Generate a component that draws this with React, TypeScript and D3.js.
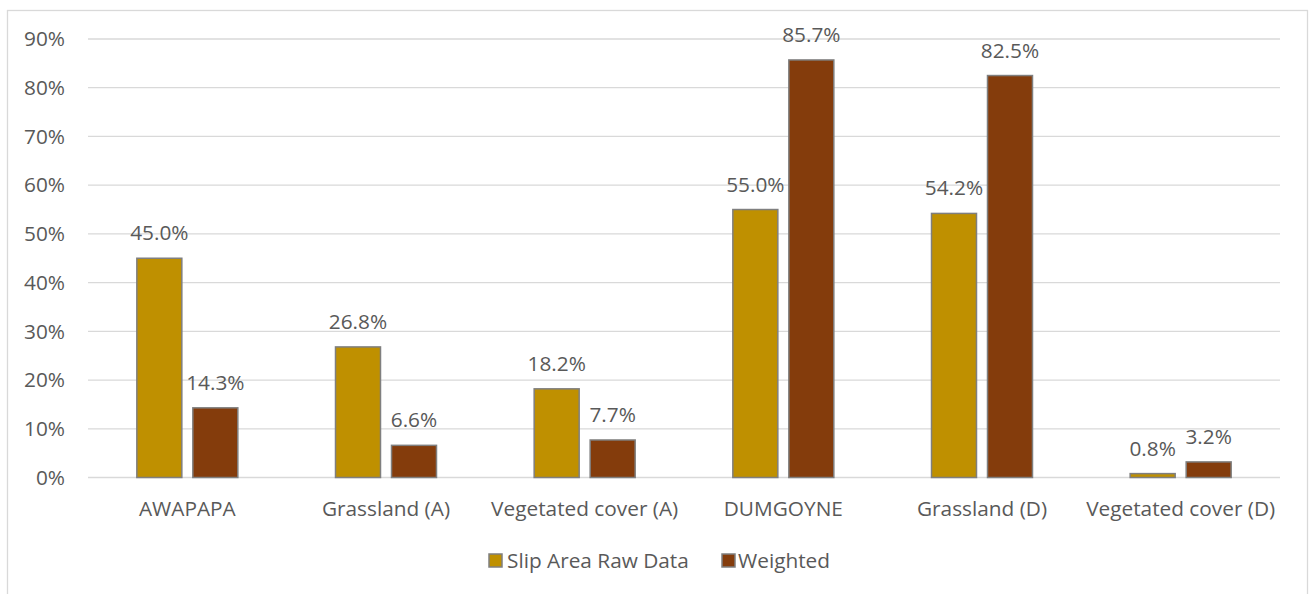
import React from "react";
import * as d3 from "d3";

const categories = [
  "AWAPAPA",
  "Grassland (A)",
  "Vegetated cover (A)",
  "DUMGOYNE",
  "Grassland (D)",
  "Vegetated cover (D)",
];
const rawData = [45.0, 26.8, 18.2, 55.0, 54.2, 0.8];
const weighted = [14.3, 6.6, 7.7, 85.7, 82.5, 3.2];
const yTicks = [0, 10, 20, 30, 40, 50, 60, 70, 80, 90];
const seriesNames = ["Slip Area Raw Data", "Weighted"];
const seriesColors = ["#BF9000", "#843C0C"];

const W = 1309;
const H = 594;
const plot = { left: 88, right: 1280, top: 39, bottom: 477.5 };
const FONT = "'Open Sans', 'Liberation Sans', sans-serif";
const TEXT = "#595959";
const FS = 20.8;

export default function App() {
  const x0 = d3
    .scaleBand<string>()
    .domain(categories)
    .range([plot.left, plot.right])
    .paddingInner(0)
    .paddingOuter(0);
  const y = d3.scaleLinear().domain([0, 90]).range([plot.bottom, plot.top]);

  const barW = 45;
  const gap = 11;
  const groupW = barW * 2 + gap;
  const series = [rawData, weighted];

  const barX = (ci: number, si: number) => {
    const c = categories[ci];
    const start = (x0(c) as number) + (x0.bandwidth() - groupW) / 2;
    return start + si * (barW + gap);
  };

  const legend = [
    { box: 489, text: 507 },
    { box: 722, text: 738 },
  ];

  return (
    <svg
      width={W}
      height={H}
      style={{ position: "absolute", left: 0, top: 0, background: "#fff" }}
      fontFamily={FONT}
    >
      <rect x={7.5} y={10.5} width={1300} height={600} fill="#fff" stroke="#D9D9D9" strokeWidth={1.3} />

      {yTicks.map((t) => (
        <g key={t}>
          <line
            x1={plot.left}
            x2={plot.right}
            y1={y(t)}
            y2={y(t)}
            stroke="#D9D9D9"
            strokeWidth={1.3}
          />
          <text
            x={65}
            y={y(t)}
            dy="0.35em"
            textAnchor="end"
            fontSize={FS}
            fill={TEXT}
          >
            {t}%
          </text>
        </g>
      ))}

      {series.map((vals, si) =>
        vals.map((v, ci) => (
          <g key={`${si}-${ci}`}>
            <rect
              x={barX(ci, si)}
              y={y(v)}
              width={barW}
              height={y(0) - y(v)}
              fill={seriesColors[si]}
              stroke="#7F7F7F"
              strokeWidth={1.5}
            />
            <text
              x={barX(ci, si) + barW / 2}
              y={y(v) - 18}
              textAnchor="middle"
              fontSize={FS}
              fill={TEXT}
            >
              {v.toFixed(1)}%
            </text>
          </g>
        ))
      )}

      {categories.map((c) => (
        <text
          key={c}
          x={(x0(c) as number) + x0.bandwidth() / 2}
          y={516}
          textAnchor="middle"
          fontSize={FS}
          fill={TEXT}
        >
          {c}
        </text>
      ))}

      {seriesNames.map((name, i) => (
        <g key={name}>
          <rect
            x={legend[i].box}
            y={554}
            width={13}
            height={13}
            fill={seriesColors[i]}
            stroke="#7F7F7F"
            strokeWidth={1.5}
          />
          <text x={legend[i].text} y={561} dy="0.35em" fontSize={FS} fill={TEXT}>
            {name}
          </text>
        </g>
      ))}
    </svg>
  );
}
